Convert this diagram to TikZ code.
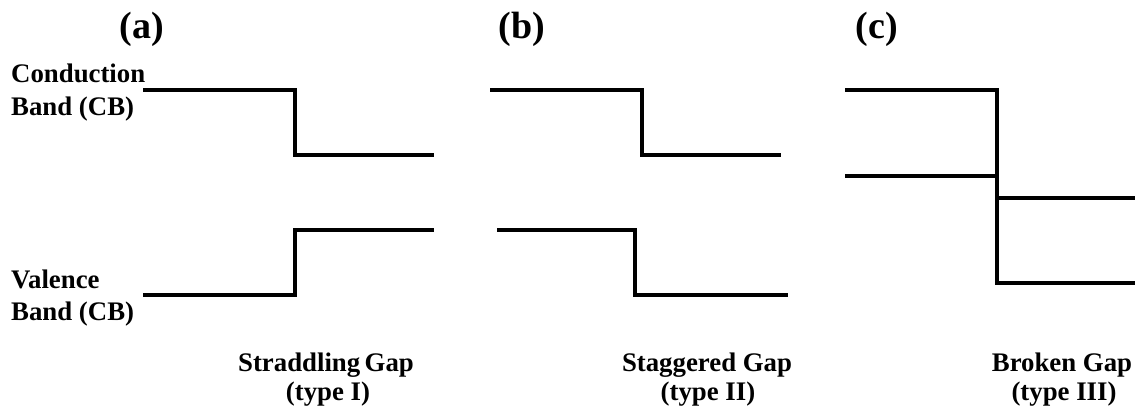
\documentclass[tikz,border=0pt]{standalone}
\usepackage{fontspec}
\setmainfont{Liberation Serif}
\begin{document}
\begin{tikzpicture}[x=1pt,y=-1pt,
  band/.style={line width=3.2pt,line join=miter,black},
  lbl/.style={inner sep=0pt,font=\bfseries\fontsize{26.8}{30}\selectfont},
  ttl/.style={inner sep=0pt,anchor=base,font=\bfseries\fontsize{38}{42}\selectfont}]
\useasboundingbox (0,0) rectangle (1146,410);
% titles
\node[ttl] (ta) at (142,38) {(a)};
\node[ttl] (tb) at (522,38) {(b)};
\node[ttl] (tc) at (877,38) {(c)};
% side labels
\node[lbl,anchor=base west] (cb1) at (11,82) {Conduction};
\node[lbl,anchor=base west] (cb2) at (11,115) {Band (CB)};
\node[lbl,anchor=base west] (vb1) at (11,288) {Valence};
\node[lbl,anchor=base west] (vb2) at (11,320) {Band (CB)};
% captions
\node[lbl,anchor=base] (ca1) at (326,371) {Straddling\,Gap};
\node[lbl,anchor=base] (ca2) at (328,400) {(type I)};
\node[lbl,anchor=base] (cbb1) at (707,371) {Staggered Gap};
\node[lbl,anchor=base] (cbb2) at (708,400) {(type II)};
\node[lbl,anchor=base] (cc1) at (1062,371) {Broken Gap};
\node[lbl,anchor=base] (cc2) at (1064,400) {(type III)};
% panel a
\coordinate (a1) at (143,90); \coordinate (a2) at (295,90);
\coordinate (a3) at (295,155); \coordinate (a4) at (434,155);
\coordinate (a5) at (143,295); \coordinate (a6) at (295,295);
\coordinate (a7) at (295,230); \coordinate (a8) at (434,230);
\draw[band] (a1) -- (a2) -- (a3) -- (a4);
\draw[band] (a5) -- (a6) -- (a7) -- (a8);
% panel b
\coordinate (b1) at (490,90); \coordinate (b2) at (642,90);
\coordinate (b3) at (642,155); \coordinate (b4) at (781,155);
\coordinate (b5) at (497,230); \coordinate (b6) at (635,230);
\coordinate (b7) at (635,295); \coordinate (b8) at (788,295);
\draw[band] (b1) -- (b2) -- (b3) -- (b4);
\draw[band] (b5) -- (b6) -- (b7) -- (b8);
% panel c
\coordinate (c1) at (845,90); \coordinate (c2) at (997,90);
\coordinate (c3) at (997,283); \coordinate (c4) at (1135,283);
\coordinate (c5) at (845,176); \coordinate (c6) at (997,176);
\coordinate (c7) at (997,198); \coordinate (c8) at (1135,198);
\draw[band] (c1) -- (c2) -- (c3) -- (c4);
\draw[band] (c5) -- (c6);
\draw[band] (c7) -- (c8);
\end{tikzpicture}
\end{document}
